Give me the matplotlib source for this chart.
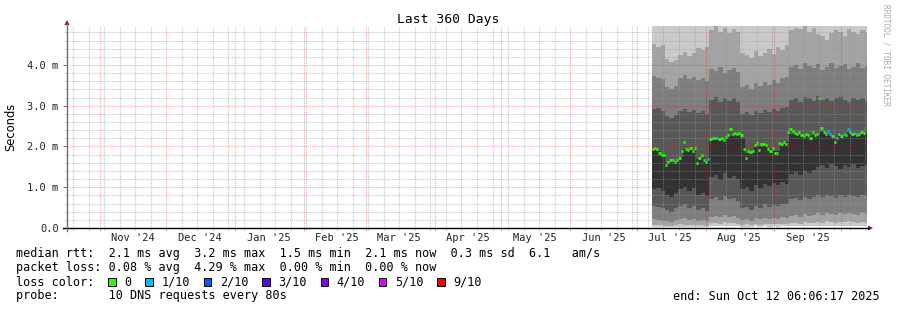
import datetime as dt
import matplotlib
matplotlib.use("Agg")
import matplotlib.pyplot as plt
import matplotlib.dates as mdates
from matplotlib.ticker import MultipleLocator, FuncFormatter
from matplotlib.patches import Rectangle, Polygon
from matplotlib.lines import Line2D

# ---- values ----
end_time = dt.datetime(2025, 10, 12, 6, 6, 17)
span_days = 360
data_start = dt.datetime(2025, 7, 7, 17, 0)

# daily median rtt (ms)
median_ms = [1.95, 1.96, 1.93, 1.85, 1.80, 1.78, 1.55, 1.62, 1.68, 1.66,
             1.63, 1.67, 1.72, 1.90, 2.10, 1.93, 1.92, 1.97, 1.90, 1.96,
             1.60, 1.72, 1.80, 1.68, 1.62, 1.70, 2.18, 2.20, 2.22, 2.21,
             2.18, 2.20, 2.17, 2.24, 2.27, 2.42, 2.30, 2.32, 2.30, 2.33,
             2.28, 1.95, 1.72, 1.88, 1.86, 1.90, 2.03, 2.08, 1.92, 2.05,
             2.07, 2.04, 1.93, 1.88, 1.97, 1.83, 1.85, 2.08, 2.05, 2.10,
             2.07, 2.35, 2.42, 2.38, 2.33, 2.30, 2.35, 2.28, 2.25, 2.30,
             2.27, 2.22, 2.35, 2.28, 2.30, 3.20, 2.45, 2.35, 2.30, 2.38,
             2.30, 2.25, 2.10, 2.20, 2.30, 2.25, 2.30, 2.28, 2.42, 2.35,
             2.30, 2.33, 2.28, 2.30, 2.35, 2.32, 2.45]
# pings lost out of 10, same days
loss = [0, 0, 0, 0, 0, 0, 0, 0, 0, 0,
        0, 0, 0, 0, 0, 0, 0, 0, 0, 0,
        0, 0, 0, 0, 0, 1, 0, 0, 0, 1,
        0, 0, 0, 0, 0, 0, 0, 0, 0, 0,
        0, 0, 0, 0, 0, 0, 0, 0, 0, 0,
        0, 0, 0, 0, 0, 0, 0, 0, 0, 0,
        0, 0, 0, 0, 0, 0, 0, 0, 0, 0,
        0, 0, 0, 0, 0, 0, 0, 0, 0, 1,
        1, 0, 0, 1, 0, 0, 1, 0, 1, 0,
        0, 1, 0, 0, 0, 0, 0]

# smoke: sorted ping rtt (ms), one value every 2 days, ping1 fastest .. ping10 slowest
ping1 = [0.03, 0.02, 0.03, 0.02, 0.02, 0.03, 0.03, 0.03, 0.02, 0.03, 0.02, 0.03, 0.02,
         0.04, 0.05, 0.04, 0.05, 0.04, 0.05, 0.04,
         0.03, 0.03, 0.02, 0.04, 0.03, 0.04, 0.03, 0.04, 0.03, 0.04, 0.04,
         0.04, 0.05, 0.04, 0.05, 0.04, 0.05, 0.06, 0.05, 0.06, 0.05, 0.05, 0.06, 0.05, 0.06, 0.05, 0.05, 0.06, 0.05]
ping2 = [0.08, 0.07, 0.08, 0.06, 0.06, 0.08, 0.09, 0.08, 0.07, 0.08, 0.07, 0.08, 0.06,
         0.12, 0.13, 0.11, 0.14, 0.12, 0.13, 0.11,
         0.08, 0.09, 0.07, 0.10, 0.08, 0.10, 0.09, 0.10, 0.09, 0.11, 0.10,
         0.12, 0.13, 0.11, 0.14, 0.12, 0.13, 0.15, 0.13, 0.16, 0.14, 0.13, 0.15, 0.14, 0.16, 0.14, 0.13, 0.15, 0.14]
ping3 = [0.22, 0.20, 0.18, 0.17, 0.15, 0.20, 0.22, 0.24, 0.20, 0.22, 0.18, 0.20, 0.17,
         0.28, 0.30, 0.26, 0.32, 0.28, 0.30, 0.25,
         0.20, 0.22, 0.18, 0.24, 0.21, 0.25, 0.22, 0.24, 0.23, 0.26, 0.25,
         0.30, 0.32, 0.28, 0.34, 0.30, 0.33, 0.36, 0.33, 0.38, 0.35, 0.32, 0.36, 0.34, 0.38, 0.35, 0.33, 0.36, 0.34]
ping4 = [0.55, 0.52, 0.48, 0.45, 0.40, 0.50, 0.55, 0.58, 0.50, 0.55, 0.45, 0.48, 0.42,
         0.72, 0.75, 0.68, 0.78, 0.70, 0.74, 0.66,
         0.48, 0.52, 0.45, 0.55, 0.50, 0.58, 0.52, 0.56, 0.54, 0.60, 0.58,
         0.70, 0.74, 0.68, 0.76, 0.72, 0.75, 0.80, 0.76, 0.82, 0.78, 0.74, 0.80, 0.77, 0.82, 0.78, 0.75, 0.80, 0.78]
ping5 = [0.95, 0.98, 0.90, 0.82, 0.75, 0.85, 0.95, 1.00, 0.92, 0.98, 0.80, 0.85, 0.78,
         1.25, 1.30, 1.18, 1.35, 1.22, 1.28, 1.20,
         0.95, 1.00, 0.92, 1.05, 0.98, 1.08, 1.02, 1.10, 1.05, 1.12, 1.08,
         1.32, 1.38, 1.30, 1.40, 1.35, 1.42, 1.50, 1.55, 1.48, 1.58, 1.52, 1.45, 1.55, 1.50, 1.58, 1.48, 1.52, 1.55]
ping6 = [1.92, 1.90, 1.78, 1.60, 1.65, 1.65, 1.75, 1.95, 1.92, 1.92, 1.70, 1.72, 1.65,
         2.15, 2.18, 2.17, 2.18, 2.25, 2.30, 2.28,
         2.20, 1.85, 1.85, 1.98, 1.98, 2.02, 1.95, 1.90, 1.88, 2.05, 2.10,
         2.30, 2.30, 2.28, 2.25, 2.25, 2.28, 2.28, 2.35, 2.30, 2.28, 2.18, 2.25, 2.25, 2.32, 2.28, 2.26, 2.30, 2.32]
ping7 = [2.92, 2.95, 2.88, 2.75, 2.70, 2.78, 2.88, 2.92, 2.85, 2.90, 2.82, 2.88, 2.80,
         3.15, 3.22, 3.10, 3.18, 3.12, 3.20, 3.08,
         2.80, 2.85, 2.78, 2.88, 2.82, 2.90, 2.85, 2.92, 2.88, 2.95, 2.98,
         3.15, 3.20, 3.10, 3.22, 3.18, 3.12, 3.25, 3.15, 3.20, 3.12, 3.18, 3.22, 3.15, 3.10, 3.20, 3.15, 3.18, 3.12]
ping8 = [3.72, 3.68, 3.65, 3.45, 3.40, 3.48, 3.68, 3.75, 3.65, 3.70, 3.62, 3.68, 3.60,
         3.90, 3.85, 3.95, 3.80, 3.88, 3.92, 3.82,
         3.45, 3.50, 3.42, 3.55, 3.48, 3.58, 3.52, 3.62, 3.55, 3.68, 3.70,
         3.95, 4.00, 3.90, 4.05, 3.98, 3.92, 4.02, 3.88, 3.95, 4.05, 3.92, 3.98, 4.02, 3.90, 3.96, 4.05, 3.92, 3.98]
ping9 = [4.52, 4.45, 4.48, 4.15, 4.08, 4.12, 4.25, 4.32, 4.22, 4.30, 4.42, 4.38, 4.45,
         4.85, 4.95, 4.80, 4.90, 4.78, 4.88, 4.82,
         4.30, 4.25, 4.18, 4.35, 4.22, 4.30, 4.40, 4.28, 4.45, 4.38, 4.50,
         4.85, 4.92, 4.88, 4.95, 4.80, 4.90, 4.75, 4.70, 4.62, 4.78, 4.85, 4.80, 4.72, 4.88, 4.82, 4.76, 4.85, 4.80]
ping10 = [5.4, 5.3, 5.5, 5.2, 5.1, 5.3, 5.4, 5.5, 5.3, 5.4, 5.4, 5.5, 5.6,
          6.0, 6.2, 5.9, 6.1, 5.9, 6.0, 6.0,
          5.5, 5.4, 5.3, 5.6, 5.4, 5.5, 5.6, 5.5, 5.7, 5.6, 5.8,
          6.1, 6.2, 6.1, 6.3, 6.0, 6.2, 6.0, 5.9, 5.8, 6.0, 6.1, 6.0, 5.9, 6.1, 6.0, 5.9, 6.1, 6.0]

loss_labels = ["0", "1/10", "2/10", "3/10", "4/10", "5/10", "9/10"]
loss_colors = ["#26ff00", "#00b8ff", "#0059ff", "#5e00ff", "#7e00ff", "#dd00ff", "#ff0000"]

stats_rtt = "median rtt:  2.1 ms avg  3.2 ms max  1.5 ms min  2.1 ms now  0.3 ms sd  6.1   am/s"
stats_loss = "packet loss: 0.08 % avg  4.29 % max  0.00 % min  0.00 % now"
probe_text = "probe:       10 DNS requests every 80s"
end_text = "end: Sun Oct 12 06:06:17 2025"

# ---- drawing ----
MONO = "DejaVu Sans Mono"
W, H = 897, 310


def fx(x):
    return x / W


def fy(y):
    return 1 - y / H


fig = plt.figure(figsize=(W / 100, H / 100), dpi=100)
fig.patch.set_facecolor("white")
ax = fig.add_axes([fx(67), fy(228), (866 - 67) / W, (228 - 26) / H])

start_time = end_time - dt.timedelta(days=span_days)

# smoke bands, outer pair lightest, inner pair darkest
pings = [ping1, ping2, ping3, ping4, ping5, ping6, ping7, ping8, ping9, ping10]
smoke_x = [mdates.date2num(data_start + dt.timedelta(days=2 * i)) for i in range(len(ping1) + 1)]
half = len(pings) // 2
for i in range(half):
    grey = int(190 / half * (half - 1 - i)) + 50
    lo = pings[i] + [pings[i][-1]]
    hi = pings[-1 - i] + [pings[-1 - i][-1]]
    ax.fill_between(smoke_x, lo, hi, step="post", color="#%02x%02x%02x" % (grey, grey, grey),
                    lw=0, zorder=1)

# median, coloured by loss
for i in range(len(median_ms)):
    t0 = mdates.date2num(data_start + dt.timedelta(days=i))
    ax.hlines(median_ms[i], t0, t0 + 1, color=loss_colors[loss[i]], lw=2, zorder=3)

ax.set_xlim(start_time, end_time)
ax.set_ylim(0, 4.957)

ax.xaxis.set_major_locator(mdates.MonthLocator())
ax.xaxis.set_minor_locator(mdates.WeekdayLocator(byweekday=mdates.SU))
ax.yaxis.set_major_locator(MultipleLocator(1))
ax.yaxis.set_minor_locator(MultipleLocator(0.2))
ax.yaxis.set_major_formatter(FuncFormatter(lambda v, p: "0.0" if v == 0 else "%.1f m" % v))

ax.set_axisbelow(False)
ax.grid(which="minor", color="#999999", alpha=0.55, lw=0.8, linestyle=(0, (1, 1)))
ax.grid(which="major", color="#ff0000", alpha=0.35, lw=0.8, linestyle=(0, (1, 1)))

ax.tick_params(axis="x", which="both", labelbottom=False, direction="out", width=0.72)
ax.tick_params(axis="x", which="major", length=2, color="#ff9090")
ax.tick_params(axis="x", which="minor", length=1.5, color="#c0c0c0")
ax.tick_params(axis="y", which="major", length=3, width=0.72, color="#707070",
               labelsize=7.5, pad=3, labelcolor="#222222")
ax.tick_params(axis="y", which="minor", length=1.5, width=0.72, color="#b0b0b0")
for lab in ax.get_yticklabels():
    lab.set_family(MONO)

for s in ax.spines.values():
    s.set_visible(False)

# month labels sit in the middle of each month
for m in mdates.MonthLocator().tick_values(start_time, end_time):
    d = mdates.num2date(m).replace(tzinfo=None) + dt.timedelta(days=15)
    if start_time < d < end_time:
        ax.text(d, -9.7 / 202, d.strftime("%b '%y"), transform=ax.get_xaxis_transform(),
                ha="center", va="center", fontsize=7.5, family=MONO, color="#222222")

# axis lines and arrows
fig.add_artist(Line2D([fx(63), fx(869)], [fy(228), fy(228)], color="black", lw=1))
fig.add_artist(Line2D([fx(67), fx(67)], [fy(231), fy(24)], color="#707070", lw=1))
fig.add_artist(Polygon([(fx(64.5), fy(25)), (fx(69.5), fy(25)), (fx(67), fy(20))],
                       closed=True, color="#8b1a1a", lw=0))
fig.add_artist(Polygon([(fx(868), fy(225.5)), (fx(868), fy(230.5)), (fx(873), fy(228))],
                       closed=True, color="#8b1a1a", lw=0))

fig.text(fx(448.5), fy(19), "Last 360 Days", ha="center", va="center", fontsize=9.4, family=MONO)
fig.text(fx(10.5), fy(127), "Seconds", rotation=90, ha="center", va="center", fontsize=8.3)
fig.text(fx(886), fy(4), "RRDTOOL / TOBI OETIKER", rotation=-90, ha="center", va="top",
         fontsize=5.6, family=MONO, color="#aaaaaa")

# legend block
fig.text(fx(16), fy(254), stats_rtt, ha="left", va="center", fontsize=8.5, family=MONO)
fig.text(fx(16), fy(268), stats_loss, ha="left", va="center", fontsize=8.5, family=MONO)
fig.text(fx(16), fy(282), "loss color:", ha="left", va="center", fontsize=8.5, family=MONO)
x = 108.3
for lab, col in zip(loss_labels, loss_colors):
    fig.add_artist(Rectangle((fx(x), fy(285.7)), 7.3 / W, 7.3 / H, facecolor=col,
                             edgecolor="black", lw=0.7, transform=fig.transFigure))
    fig.text(fx(x + 16), fy(282), lab, ha="left", va="center", fontsize=8.5, family=MONO)
    x += 16 + len(lab) * 7.1 + 14
fig.text(fx(16), fy(296), probe_text, ha="left", va="center", fontsize=8.5, family=MONO)
fig.text(fx(880), fy(296), end_text, ha="right", va="center", fontsize=8.5, family=MONO)

fig.savefig("out.png", dpi=100)
